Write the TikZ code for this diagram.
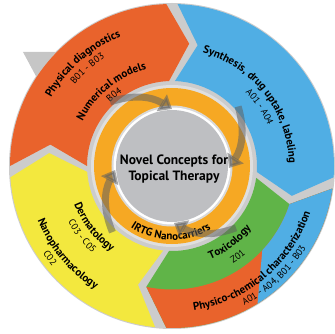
\documentclass[tikz,border=0pt]{standalone}
\usepackage{fontspec}
\setmainfont{PT Sans}
\usetikzlibrary{arrows.meta,decorations.text}

\definecolor{segorange}{RGB}{233,99,44}
\definecolor{segblue}{RGB}{80,174,228}
\definecolor{segyellow}{RGB}{243,232,62}
\definecolor{seggreen}{RGB}{96,180,72}
\definecolor{ringorange}{RGB}{246,168,35}
\definecolor{centergray}{RGB}{190,191,194}

\def\rin{85}                  % inner radius of the outer segments
\def\rout{162}                % outer radius
\def\rmid{123.5}              % radius of the arrow tips
\def\tip{10}                  % angle of the arrow tips
\def\lblfont{\bfseries\fontsize{11}{13}\selectfont}
\def\subfont{\fontsize{9.5}{11}\selectfont}

% arrow shaped segment, from angle #1 clockwise to angle #2
\newcommand\segment[2]{(#1:\rout) arc[start angle=#1, end angle=#2, radius=\rout]
  -- (#2-\tip:\rmid) -- (#2:\rin) arc[start angle=#2, end angle=#1, radius=\rin]
  -- (#1-\tip:\rmid) -- cycle}

% curved text: centre angle, radius, font, text
\newcommand\toptext[4]{\path[arclabel={|#3|#4}] (#1+70:#2)
  arc[start angle=#1+70, end angle=#1-70, radius=#2];}
\newcommand\bottext[4]{\path[arclabel={|#3|#4}] (#1-70:#2)
  arc[start angle=#1-70, end angle=#1+70, radius=#2];}

\tikzset{
  arclabel/.style={decorate, decoration={text along path, text align=center, text={#1}}},
  ringarrow/.style={line width=7pt, draw=gray!75!black, opacity=0.55,
    -{Triangle[length=12pt, width=19pt]}},
}

\begin{document}
\begin{tikzpicture}[x=1pt, y=1pt]
  \useasboundingbox (-172,-168) rectangle (162,166);
  \fill[gray!40] (0,0) circle (\rout+1);                          % shows in the gaps
  \fill[gray!45] (-149,114) -- (-80,114) -- (-80,60) -- (-120,60) -- cycle;
  % plain segments
  \foreach \from/\to/\col in {264/184/segyellow, 180/92/segorange, 88/-4/segblue}
    \fill[\col] \segment{\from}{\to};
  % lower right segment: green inside, orange and blue outside
  \begin{scope}
    \clip \segment{-8}{-92};
    \fill[seggreen] (0,0) circle (\rout+5);
    \fill[segorange, even odd rule] (0,0) circle (\rout+5) circle (\rmid);
    \fill[segblue] (-43:\rmid) -- (79,-210) -- (210,-210) -- (210,60) -- (25:\rmid)
      arc[start angle=25, end angle=-43, radius=\rmid] -- cycle;
  \end{scope}
  % inner ring and centre
  \fill[gray!25] (0,0) circle (81);
  \fill[ringorange] (0,0) circle (78);
  \fill[gray!30] (0,0) circle (60.5);
  \fill[white] (0,0) circle (58.5);
  \fill[centergray] (0,0) circle (56);
  \node[align=center, font=\bfseries\fontsize{13.5}{16}\selectfont] (title) at (2,-3)
    {Novel Concepts for\\Topical Therapy};
  % labels
  \toptext{131}{139}{\lblfont}{Physical diagnostics}
  \toptext{131}{127}{\subfont}{B01 - B03}
  \toptext{129}{100}{\lblfont}{Numerical models}
  \toptext{129}{89}{\subfont}{B04}
  \toptext{38}{117}{\lblfont}{Synthesis, drug uptake, labeling}
  \toptext{34}{104}{\subfont}{A01 - A04}
  \bottext{218}{105}{\lblfont}{Dermatology}
  \bottext{218}{118}{\subfont}{C03 - C05}
  \bottext{220}{145}{\lblfont}{Nanopharmacology}
  \bottext{217}{156}{\subfont}{C02}
  \bottext{-53}{101}{\lblfont}{Toxicology}
  \bottext{-54}{115}{\subfont}{Z01}
  \bottext{-50}{146}{\lblfont}{Physico-chemical characterization}
  \bottext{-47}{157}{\subfont}{A01 - A04, B01 - B03}
  \bottext{-91}{74}{\lblfont}{IRTG Nanocarriers}
  % arrows round the centre
  \foreach \a in {90,-2,-88,184}
    \draw[ringarrow] (\a+44:89) to[bend left=25] (\a:57);
\end{tikzpicture}
\end{document}
